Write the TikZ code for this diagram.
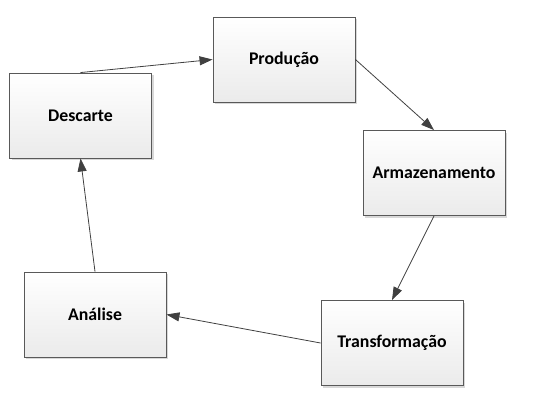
\documentclass[tikz,border=0pt]{standalone}
\usepackage{fontspec}
\setmainfont{Carlito}
\usetikzlibrary{arrows.meta,shadows}
\tikzset{
  etapa/.style={draw=black!65, line width=0.9pt, top color=white, bottom color=black!8,
    minimum width=142pt, minimum height=85pt, inner sep=0pt,
    font=\fontsize{17.8}{21}\selectfont\bfseries,
    drop shadow={shadow xshift=2pt, shadow yshift=-2pt, fill=black!30, opacity=0.5}},
  seta/.style={color=black!75, line width=0.8pt, -{Triangle[length=13pt,width=9pt]}}
}
\begin{document}
\begin{tikzpicture}[x=1pt, y=-1pt]
\useasboundingbox (0,0) rectangle (533,405);
\node[etapa](D) at (80.5, 115.5) {Descarte};
\node[etapa](P) at (284, 59.5) {Produção};
\node[etapa](A) at (434, 173) {Armazenamento};
\node[etapa](T) at (392, 343) {Transformação};
\node[etapa](N) at (95, 314.5) {Análise};
\path[seta]
(D.north) edge (P.west)
(P.east) edge (A.north)
(A.south) edge (T.north)
(T.west) edge (N.east)
(N.north) edge (D.south);
\end{tikzpicture}
\end{document}
